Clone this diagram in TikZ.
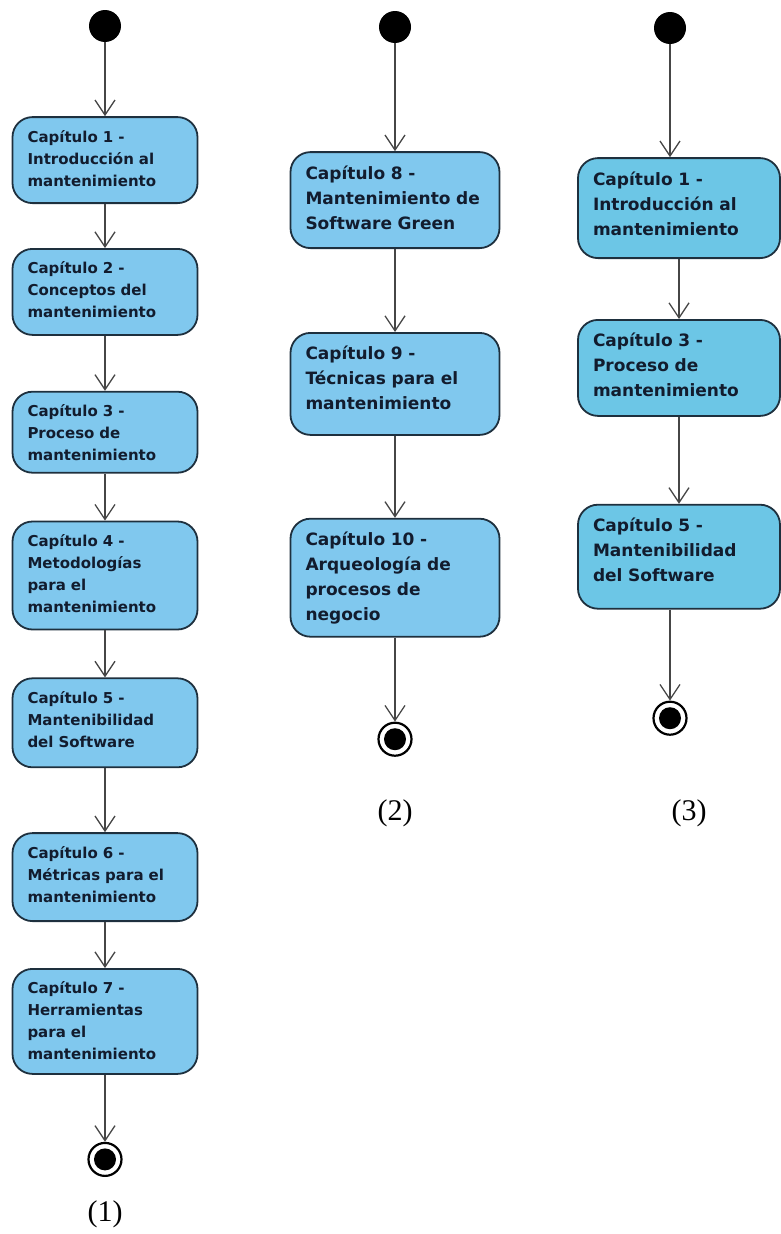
\documentclass[tikz,border=0pt]{standalone}
\usepackage{fontspec}
\setsansfont{DejaVu Sans}
\newfontfamily\labelfont{Liberation Serif}
\usepackage{tikz}
\usetikzlibrary{arrows.meta, positioning}
\definecolor{boxblue}{RGB}{128,200,238}
\definecolor{boxcyan}{RGB}{108,198,230}
\definecolor{boxline}{RGB}{30,48,62}
\definecolor{boxtext}{RGB}{18,28,46}
\definecolor{linegray}{RGB}{70,70,70}
\tikzstyle{chapter} = [rectangle, rounded corners=20pt, draw=boxline, line width=1.8pt, fill=boxblue, text=boxtext, align=left, inner xsep=15pt, inner ysep=0pt]
\tikzstyle{chapsmall} = [chapter, text width=155pt, text height=25pt, font=\sffamily\bfseries\fontsize{15}{22}\selectfont]
\tikzstyle{chaplarge} = [chapter, text width=179pt, text height=27pt, font=\sffamily\bfseries\fontsize{17}{25}\selectfont]
\tikzstyle{startnode} = [circle, fill=black, inner sep=0pt, minimum size=32pt]
\tikzstyle{endnode} = [circle, draw=black, line width=2.2pt, fill=white, inner sep=0pt, minimum size=33pt, path picture={\fill[black] (path picture bounding box.center) circle (11pt);}]
\tikzstyle{arrow} = [draw=linegray, line width=1.3pt, -{Straight Barb[length=15pt, width=20pt]}]
\tikzstyle{figlabel} = [font=\labelfont\fontsize{30}{30}\selectfont]

\begin{document}
\begin{tikzpicture}[x=1pt, y=-1pt]
    \useasboundingbox (0,0) rectangle (781,1234);

    % (1)
    \node (ini1) [startnode] at (105,26) {};
    \node (cap1) [chapsmall, text depth=61pt, below=74pt of ini1] {Capítulo 1 -\\Introducción al\\mantenimiento};
    \node (cap2) [chapsmall, text depth=61pt, below=44pt of cap1] {Capítulo 2 -\\Conceptos del\\mantenimiento};
    \node (cap3) [chapsmall, text depth=56pt, below=55pt of cap2] {Capítulo 3 -\\Proceso de\\mantenimiento};
    \node (cap4) [chapsmall, text depth=83pt, below=47pt of cap3] {Capítulo 4 -\\Metodologías\\para el\\mantenimiento};
    \node (cap5) [chapsmall, text depth=64pt, below=47pt of cap4] {Capítulo 5 -\\Mantenibilidad\\del Software};
    \node (cap6) [chapsmall, text depth=63pt, below=64pt of cap5] {Capítulo 6 -\\Métricas para el\\mantenimiento};
    \node (cap7) [chapsmall, text depth=80pt, below=46pt of cap6] {Capítulo 7 -\\Herramientas\\para el\\mantenimiento};
    \node (fin1) [endnode, below=67pt of cap7] {};
    \node (lab1) [figlabel] at (105,1214) {(1)};

    % (2)
    \node (ini2) [startnode] at (395,27) {};
    \node (cap8) [chaplarge, text depth=69pt, below=108pt of ini2] {Capítulo 8 -\\Mantenimiento de\\Software Green};
    \node (cap9) [chaplarge, text depth=75pt, below=83pt of cap8] {Capítulo 9 -\\Técnicas para el\\mantenimiento};
    \node (cap10) [chaplarge, text depth=91pt, below=82pt of cap9] {Capítulo 10 -\\Arqueología de\\procesos de\\negocio};
    \node (fin2) [endnode, below=84pt of cap10] {};
    \node (lab2) [figlabel] at (395,813) {(2)};

    % (3)
    \node (ini3) [startnode] at (670,28) {};
    \node (sel1) [chaplarge, fill=boxcyan, text width=172pt, text depth=73pt, below=113pt of ini3, xshift=9pt] {Capítulo 1 -\\Introducción al\\mantenimiento};
    \node (sel3) [chaplarge, fill=boxcyan, text width=172pt, text depth=69pt, below=60pt of sel1] {Capítulo 3 -\\Proceso de\\mantenimiento};
    \node (sel5) [chaplarge, fill=boxcyan, text width=172pt, text depth=77pt, below=87pt of sel3] {Capítulo 5 -\\Mantenibilidad\\del Software};
    \node (fin3) [endnode, below=91pt of sel5, xshift=-9pt] {};
    \node (lab3) [figlabel] at (689,813) {(3)};

    \draw [arrow] (ini1) -- (cap1);
    \draw [arrow] (cap1) -- (cap2);
    \draw [arrow] (cap2) -- (cap3);
    \draw [arrow] (cap3) -- (cap4);
    \draw [arrow] (cap4) -- (cap5);
    \draw [arrow] (cap5) -- (cap6);
    \draw [arrow] (cap6) -- (cap7);
    \draw [arrow] (cap7) -- (fin1);

    \draw [arrow] (ini2) -- (cap8);
    \draw [arrow] (cap8) -- (cap9);
    \draw [arrow] (cap9) -- (cap10);
    \draw [arrow] (cap10) -- (fin2);

    \draw [arrow] (ini3) -- (ini3 |- sel1.north);
    \draw [arrow] (sel1) -- (sel3);
    \draw [arrow] (sel3) -- (sel5);
    \draw [arrow] (sel5.south -| fin3) -- (fin3);
\end{tikzpicture}
\end{document}
